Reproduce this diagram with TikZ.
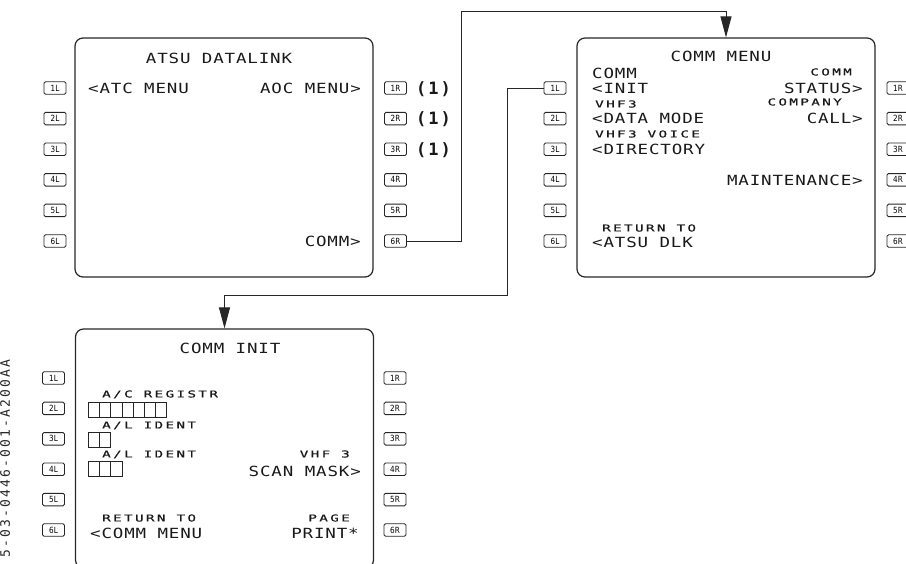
\documentclass[tikz,border=0pt]{standalone}
\usepackage{fontspec}
\usetikzlibrary{arrows.meta,calc,positioning}
\newfontfamily\cdu[LetterSpace=6,FakeStretch=1.25]{DejaVu Sans Mono}
\newfontfamily\cdusm[LetterSpace=25,FakeStretch=1.5,FakeBold=0.6]{DejaVu Sans Mono}
\newfontfamily\cduone[LetterSpace=12]{DejaVu Sans Mono}
\newfontfamily\cduside[LetterSpace=17]{DejaVu Sans Mono}
\newfontfamily\keyf[FakeStretch=0.85]{DejaVu Sans}
\begin{document}
\begin{tikzpicture}[x=1pt,y=-1pt,
 big/.style={font=\cdu\fontsize{14}{14}\selectfont,inner sep=0pt,text height=10.2pt,text depth=0pt,text=black!90},
 sml/.style={font=\cdusm\fontsize{9.5}{10}\selectfont,inner sep=0pt,text height=6.9pt,text depth=0pt,text=black!90},
 scr/.style={draw=black!85,line width=1.2pt,rounded corners=8pt,minimum width=298pt,minimum height=239pt},
 lsk/.style={draw=black!85,line width=.9pt,rounded corners=1.5pt,minimum width=22pt,minimum height=12.5pt,inner sep=0pt,font=\keyf\fontsize{8.5}{8.5}\selectfont},
 wire/.style={draw=black!85,line width=1pt,-{Triangle[length=21pt,width=11pt]}}]
\useasboundingbox (0,0) rectangle (906,563);
\node[scr] (dlk) at (224,157.5) {};
\node[scr] (menu) at (726,157.5) {};
\node[scr] (init) at (224.5,448.5) {};
\foreach \s/\xl/\xr/\yt/\dy in {dlk/55/395.5/88/30.6,menu/555/898/88/30.6,init/53.5/395/378/30.4}{
 \foreach \k in {1,...,6}{
  \node[lsk] (\s-l\k) at (\xl,\yt+\dy*\k-\dy) {\k L};
  \node[lsk] (\s-r\k) at (\xr,\yt+\dy*\k-\dy) {\k R};
 }
}
\node[big] (d0) at (219,58) {ATSU DATALINK};
\node[big,anchor=west] (d1) at (88,88) {<ATC MENU};
\node[big,anchor=east] (d2) at (361,88) {AOC MENU>};
\node[big,anchor=east] (d3) at (361,241) {COMM>};
\foreach \k in {1,2,3}
 \node[big,anchor=west,font=\cduone\bfseries\fontsize{17}{17}\selectfont,text height=12pt] (d\k x) at ($(dlk-r\k.east)+(9,0)$) {(1)};
\node[big] (m0) at (721,56) {COMM MENU};
\node[big,anchor=west] (m1) at (592,73) {COMM};
\node[big,anchor=west] (m2) at (592,88) {<INIT};
\node[sml,anchor=west] (m3) at (595,104) {VHF3};
\node[big,anchor=west] (m4) at (592,118.6) {<DATA MODE};
\node[sml,anchor=west] (m5) at (595,134) {VHF3 VOICE};
\node[big,anchor=west] (m6) at (592,149) {<DIRECTORY};
\node[big,anchor=east] (m7) at (863,180) {MAINTENANCE>};
\node[sml,anchor=west] (m8) at (602,228) {RETURN TO};
\node[big,anchor=west] (m9) at (592,242) {<ATSU DLK};
\node[sml,anchor=east] (m10) at (852,72) {COMM};
\node[big,anchor=east] (m11) at (863,88) {STATUS>};
\node[sml,anchor=east] (m12) at (842,102) {COMPANY};
\node[big,anchor=east] (m13) at (863,118.6) {CALL>};
\node[big] (i0) at (230,348) {COMM INIT};
\node[sml,anchor=west] (i1) at (102,394) {A/C REGISTR};
\node[sml,anchor=west] (i2) at (102,425) {A/L IDENT};
\node[sml,anchor=west] (i3) at (102,454) {A/L IDENT};
\node[sml,anchor=east] (i4) at (350,454) {VHF 3};
\node[big,anchor=east] (i5) at (361,471) {SCAN MASK>};
\node[sml,anchor=west] (i6) at (102,518) {RETURN TO};
\node[big,anchor=west] (i7) at (90,533) {<COMM MENU};
\node[sml,anchor=east] (i8) at (350,518) {PAGE};
\node[big,anchor=east] (i9) at (359,533) {PRINT*};
\foreach \n/\y in {7/402,2/432,3/461}
 \foreach \c in {1,...,\n}
  \draw[black!85,line width=.8pt] (88.3+11.2*\c-11.2,\y) rectangle ++(11.2,15);
\coordinate (up) at (461,11);
\coordinate (dn) at (507,295);
\draw[wire] (dlk-r6.east) -| (up) -| (menu.north);
\draw[wire] (menu-l1.west) -| (dn) -| (init.north);
\node[rotate=90,font=\cduside\fontsize{13}{13}\selectfont,inner sep=0pt,text height=9.5pt,text depth=0pt,text=black!85] (ref) at (5,458.5) {5-03-0446-001-A200AA};
\end{tikzpicture}
\end{document}
